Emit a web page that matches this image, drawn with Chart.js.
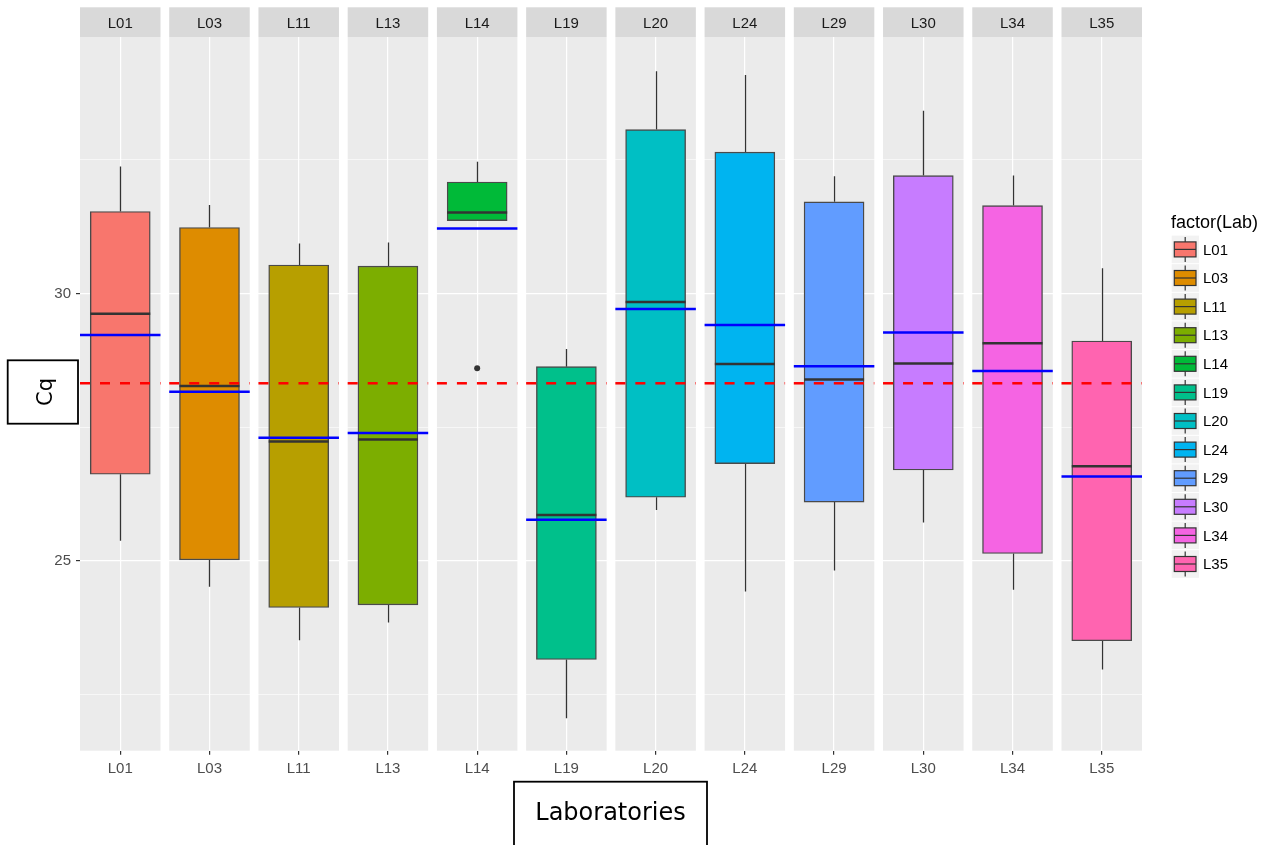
<!DOCTYPE html>
<html>
<head>
<meta charset="utf-8">
<script src="https://cdn.jsdelivr.net/npm/chart.js@4.4.1/dist/chart.umd.min.js"></script>
<style>
body{margin:0;background:#fff}
#wrap{width:1268px;height:845px}
</style>
</head>
<body>
<div id="wrap"><canvas id="cqChart" width="1268" height="845"></canvas></div>
<script>
// one facet per lab
const labs = ['L01','L03','L11','L13','L14','L19','L20','L24','L29','L30','L34','L35'];
const whiskerLow  = [25.38, 24.52, 23.52, 23.85, 31.36, 22.06, 25.95, 24.43, 24.82, 25.72, 24.46, 22.97];
const q1          = [26.62, 25.02, 24.13, 24.18, 31.36, 23.16, 26.19, 26.82, 26.10, 26.70, 25.14, 23.51];
const medians     = [29.62, 28.27, 27.23, 27.27, 31.51, 25.86, 29.84, 28.68, 28.39, 28.69, 29.07, 26.77];
const q3          = [31.53, 31.23, 30.53, 30.51, 32.08, 28.63, 33.06, 32.64, 31.71, 32.20, 31.64, 29.11];
const whiskerHigh = [32.37, 31.65, 30.93, 30.95, 32.46, 28.96, 34.15, 34.08, 32.19, 33.41, 32.20, 30.47];
const labMeans    = [29.22, 28.16, 27.30, 27.39, 31.21, 25.77, 29.71, 29.41, 28.64, 29.27, 28.55, 26.58];
const outlierLabs = ['L14'];
const outlierCq   = [28.60];
const overallMean = 28.32;
const yTicks = [22.5, 25, 27.5, 30, 32.5];
const fills = ['#F8766D','#DE8C00','#B79F00','#7CAE00','#00BA38','#00C08B','#00BFC4','#00B4F0','#619CFF','#C77CFF','#F564E3','#FF64B0'];

const panelHalf = 0.4511;
const txtFont = '"Liberation Sans", Arial, sans-serif';
Chart.defaults.font.family = txtFont;

function hline(ctx, x1, x2, y) {
    ctx.beginPath();
    ctx.moveTo(x1, y);
    ctx.lineTo(x2, y);
    ctx.stroke();
}

const facets = {
    id: 'facets',
    beforeDraw(chart) {
        let ctx = chart.ctx, a = chart.chartArea, x = chart.scales.x;
        ctx.save();
        labs.forEach(function (lab, i) {
            let l = x.getPixelForValue(i - panelHalf);
            let r = x.getPixelForValue(i + panelHalf);
            ctx.fillStyle = '#ebebeb';
            ctx.fillRect(l, a.top, r - l, a.bottom - a.top);
            ctx.fillStyle = '#d9d9d9';
            ctx.fillRect(l, 7.3, r - l, a.top - 7.3);
            ctx.fillStyle = '#1a1a1a';
            ctx.font = '15px ' + txtFont;
            ctx.textAlign = 'center';
            ctx.textBaseline = 'middle';
            ctx.fillText(lab, (l + r) / 2, 23.5);
        });
        ctx.restore();
    },
    beforeDatasetsDraw(chart) {
        let ctx = chart.ctx, x = chart.scales.x, y = chart.scales.y;
        ctx.save();
        ctx.strokeStyle = '#333333';
        ctx.lineWidth = 1.3;
        labs.forEach(function (lab, i) {
            let cx = Math.round(x.getPixelForValue(i)) + 0.5;
            ctx.beginPath();
            ctx.moveTo(cx, y.getPixelForValue(whiskerLow[i]));
            ctx.lineTo(cx, y.getPixelForValue(q1[i]));
            ctx.moveTo(cx, y.getPixelForValue(q3[i]));
            ctx.lineTo(cx, y.getPixelForValue(whiskerHigh[i]));
            ctx.stroke();
        });
        ctx.restore();
    },
    afterDatasetsDraw(chart) {
        let ctx = chart.ctx, x = chart.scales.x, y = chart.scales.y;
        let boxes = chart.getDatasetMeta(0).data;
        ctx.save();
        labs.forEach(function (lab, i) {
            let b = boxes[i];
            ctx.strokeStyle = '#333333';
            ctx.lineWidth = 2.5;
            hline(ctx, b.x - b.width / 2, b.x + b.width / 2, y.getPixelForValue(medians[i]));
            let l = x.getPixelForValue(i - panelHalf);
            let r = x.getPixelForValue(i + panelHalf);
            ctx.strokeStyle = '#0000ff';
            ctx.lineWidth = 2.5;
            hline(ctx, l, r, y.getPixelForValue(labMeans[i]));
            ctx.strokeStyle = '#ff0000';
            ctx.setLineDash([10, 10]);
            hline(ctx, l, r, y.getPixelForValue(overallMean));
            ctx.setLineDash([]);
        });
        ctx.restore();
    },
    afterDraw(chart) {
        let ctx = chart.ctx;
        ctx.save();
        // legend
        ctx.fillStyle = '#000';
        ctx.font = '18px ' + txtFont;
        ctx.textAlign = 'left';
        ctx.textBaseline = 'middle';
        ctx.fillText('factor(Lab)', 1171, 223);
        labs.forEach(function (lab, i) {
            let cy = 249.4 + i * 28.6;
            ctx.fillStyle = '#f2f2f2';
            ctx.fillRect(1171.7, cy - 13.8, 27.3, 27.6);
            ctx.fillStyle = fills[i];
            ctx.fillRect(1174.3, cy - 7.5, 21.7, 15);
            ctx.strokeStyle = '#333333';
            ctx.lineWidth = 1.2;
            ctx.strokeRect(1174.3, cy - 7.5, 21.7, 15);
            hline(ctx, 1174.3, 1196, cy);
            ctx.beginPath();
            ctx.moveTo(1185.2, cy - 12.5);
            ctx.lineTo(1185.2, cy - 7.5);
            ctx.moveTo(1185.2, cy + 7.5);
            ctx.lineTo(1185.2, cy + 12.5);
            ctx.stroke();
            ctx.fillStyle = '#000';
            ctx.font = '15px ' + txtFont;
            ctx.fillText(lab, 1203, cy + 1);
        });
        // axis title boxes
        ctx.fillStyle = '#fff';
        ctx.fillRect(7.7, 360.3, 70.3, 63.4);
        ctx.strokeStyle = '#000';
        ctx.lineWidth = 1.8;
        ctx.strokeRect(7.7, 360.3, 70.3, 63.4);
        ctx.save();
        ctx.translate(47, 392);
        ctx.rotate(-Math.PI / 2);
        ctx.fillStyle = '#000';
        ctx.font = '21px "DejaVu Sans", sans-serif';
        ctx.textAlign = 'center';
        ctx.textBaseline = 'middle';
        ctx.fillText('Cq', 0, 0);
        ctx.restore();
        ctx.fillStyle = '#fff';
        ctx.fillRect(514, 781.7, 193, 75);
        ctx.strokeRect(514, 781.7, 193, 75);
        ctx.fillStyle = '#000';
        ctx.font = '24px "DejaVu Sans", sans-serif';
        ctx.textAlign = 'center';
        ctx.textBaseline = 'alphabetic';
        ctx.fillText('Laboratories', 610.5, 820);
        ctx.restore();
    }
};

const ctx = document.getElementById('cqChart').getContext('2d');
const cqChart = new Chart(ctx, {
    type: 'bar',
    data: {
        datasets: [{
            label: 'Cq',
            data: labs.map((lab, i) => ({x: i, y: [q1[i], q3[i]]})),
            backgroundColor: fills,
            borderColor: '#4a4a4a',
            borderWidth: 1.4,
            borderSkipped: false,
            barThickness: 60
        }, {
            type: 'scatter',
            label: 'outliers',
            data: outlierLabs.map((lab, i) => ({x: labs.indexOf(lab), y: outlierCq[i]})),
            pointRadius: 3,
            pointBackgroundColor: '#333333',
            pointBorderWidth: 0
        }]
    },
    options: {
        responsive: false,
        animation: false,
        events: [],
        layout: {padding: {top: 37, right: 126, left: 0, bottom: 0}},
        plugins: {
            legend: {display: false},
            tooltip: {enabled: false}
        },
        scales: {
            x: {
                type: 'linear',
                offset: false,
                min: -panelHalf,
                max: labs.length - 1 + panelHalf,
                afterFit: function (scale) { scale.height = 94.3; },
                afterBuildTicks: function (scale) {
                    scale.ticks = labs.map((lab, i) => ({value: i}));
                },
                border: {display: false},
                grid: {offset: false, color: '#ffffff', lineWidth: 1.2, tickColor: '#333333', tickLength: 4},
                ticks: {
                    autoSkip: false,
                    maxRotation: 0,
                    padding: 5,
                    color: '#4d4d4d',
                    font: {size: 15},
                    callback: function (v) { return labs[v]; }
                }
            },
            y: {
                min: 21.455,
                max: 34.79,
                afterFit: function (scale) { scale.width = 80; },
                afterBuildTicks: function (scale) {
                    scale.ticks = yTicks.map(v => ({value: v}));
                },
                border: {display: false},
                grid: {
                    color: '#ffffff',
                    lineWidth: c => (c.tick && c.tick.value % 5 === 0 ? 1.2 : 0.6),
                    tickColor: c => (c.tick && c.tick.value % 5 === 0 ? '#333333' : 'rgba(0,0,0,0)'),
                    tickLength: 4
                },
                ticks: {
                    padding: 5,
                    color: '#4d4d4d',
                    font: {size: 15},
                    callback: function (v) { return v % 5 === 0 ? String(v) : ''; }
                }
            }
        }
    },
    plugins: [facets]
});
</script>
</body>
</html>
